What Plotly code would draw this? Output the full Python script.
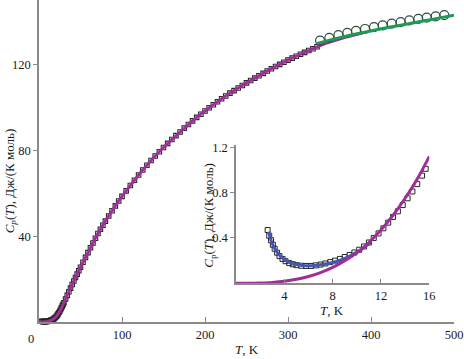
import plotly.graph_objects as go

# ---------------- main panel data ----------------
sq_T = [3, 4, 5, 6, 7, 8, 9, 10, 11, 12, 13, 14, 15, 16, 17, 18, 19, 20, 21, 22, 23, 24, 25, 26, 27, 28, 29, 30,
        32, 34, 36, 38, 40, 42, 44, 46, 48, 50, 53, 56, 59, 62, 65, 68, 71, 74, 77, 80, 84, 88, 92, 96, 100,
        105, 110, 115, 120, 125, 130, 135, 140, 145, 150, 155, 160, 165, 170, 175, 180, 185, 190, 195, 200,
        205, 210, 215, 220, 225, 230, 235, 240, 245, 250, 255, 260, 265, 270, 275, 280, 285, 290, 295, 300,
        305, 310, 315, 320, 325, 330, 335]
sq_Cp = [0.35, 0.21, 0.16, 0.155, 0.165, 0.19, 0.23, 0.28, 0.36, 0.48, 0.6, 0.75, 0.9, 1.05, 1.3, 1.55, 1.85, 2.2,
         2.7, 3.2, 3.8, 4.4, 5.0, 5.8, 6.6, 7.4, 8.2, 9.0,
         10.7, 12.4, 14.1, 15.8, 17.5, 19.1, 20.7, 22.3, 23.9, 25.5, 27.8, 30.1, 32.3, 34.6, 36.8, 39.0, 41.2,
         43.2, 45.1, 47.0, 49.4, 51.8, 54.1, 56.4, 58.5,
         61.1, 63.6, 66.0, 68.5, 70.8, 73.0, 75.2, 77.3, 79.3, 81.3, 83.2, 85.0, 86.8, 88.5, 90.3, 92.0, 93.7,
         95.3, 96.8, 98.3, 99.8, 101.2, 102.6, 104.0, 105.3, 106.6, 107.8, 109.0, 110.2, 111.4, 112.5, 113.6,
         114.7, 115.8, 116.9, 118.0, 119.0, 120.0, 121.0, 122.0, 122.9, 123.8, 124.7, 125.6, 126.5, 127.3, 128.2]

circ_T = [338.6, 349.8, 360.7, 371.5, 381.9, 392.8, 403.6, 414.1, 424.9, 435.7, 446.2, 457.0, 467.1, 477.9, 488.3]
circ_Cp = [131.1, 132.4, 133.6, 134.7, 135.6, 136.5, 137.4, 138.2, 139.0, 139.7, 140.5, 141.2, 141.8, 142.4, 143.0]

fit_T = [0, 5, 10, 15, 20, 25, 30, 35, 40, 45, 50, 55, 60, 65, 70, 75, 80, 85, 90, 95, 100, 110, 120, 130, 140,
         150, 160, 170, 180, 190, 200, 210, 220, 230, 240, 250, 260, 270, 280, 290, 300, 310, 320, 330, 340,
         350, 360, 370, 380, 390]
fit_Cp = [0.0, 0.04, 0.28, 0.9, 2.2, 5.0, 9.0, 13.3, 17.5, 21.5, 25.5, 29.3, 33.0, 36.8, 40.5, 43.8, 47.0, 50.0,
          53.0, 55.8, 58.5, 63.5, 68.5, 73.0, 77.3, 81.3, 85.0, 88.5, 92.0, 95.3, 98.3, 101.2, 104.0, 106.6,
          109.0, 111.4, 113.6, 115.8, 118.0, 120.0, 122.0, 123.8, 125.6, 127.3, 129.0,
          130.4, 131.6, 132.7, 133.7, 134.6]

hi_T = [335, 350, 375, 400, 425, 450, 475, 500]
hi_Cp = [129.8, 131.3, 133.6, 135.6, 137.5, 139.3, 141.1, 142.9]

# ---------------- inset data ----------------
in_sq_T = [2.62, 2.75, 2.9, 3.05, 3.2, 3.4, 3.6, 3.85, 4.1, 4.4, 4.7, 5.0, 5.4, 5.8, 6.2, 6.6, 7.0, 7.4, 7.8,
           8.2, 8.6, 9.0, 9.4, 9.8, 10.2, 10.6, 11.0, 11.4, 11.8, 12.2, 12.6, 13.0, 13.4, 13.8, 14.2, 14.6,
           15.0, 15.4, 15.7]
in_sq_Cp = [0.47, 0.42, 0.38, 0.34, 0.305, 0.27, 0.24, 0.215, 0.195, 0.178, 0.168, 0.16, 0.155, 0.153, 0.153,
            0.158, 0.165, 0.175, 0.187, 0.2, 0.215, 0.232, 0.25, 0.272, 0.296, 0.325, 0.36, 0.4, 0.44, 0.485,
            0.535, 0.585, 0.635, 0.69, 0.75, 0.81, 0.875, 0.95, 1.01]

in_blue_T = [2.7, 3.0, 3.5, 4.0, 4.5, 5.0, 5.5, 6.0, 6.5, 7.0, 7.5, 8.0, 8.5, 9.0, 9.5, 10.0, 10.5, 11.0, 11.2]
in_blue_Cp = [0.455, 0.35, 0.26, 0.21, 0.18, 0.165, 0.157, 0.155, 0.157, 0.163, 0.172, 0.185, 0.2, 0.22, 0.245,
              0.275, 0.31, 0.35, 0.37]

in_fit_T = [0, 1, 2, 3, 4, 5, 6, 7, 8, 9, 10, 11, 12, 13, 14, 15, 16]
in_fit_Cp = [0.0, 0.0, 0.003, 0.008, 0.018, 0.035, 0.06, 0.094, 0.14, 0.2, 0.27, 0.36, 0.47, 0.6, 0.75, 0.92, 1.12]

main_xticks = [100, 200, 300, 400, 500]
main_yticks = [40, 80, 120]
in_xticks = [4, 8, 12, 16]
in_yticks = [0.4, 0.8, 1.2]
in_ytick_text = ["0.4", "0.8", "1.2"]

PURPLE = "#9E2F98"
GREEN = "#1E9A55"
BLUE = "#4356B2"
SQ = "#262626"
AX = "#8a8a8a"
FONT = "Liberation Serif"

fig = go.Figure()
fig.add_trace(go.Scatter(x=sq_T, y=sq_Cp, mode="markers", cliponaxis=False,
                         marker=dict(symbol="square-open", size=4.5, color=SQ, line=dict(width=1.1, color=SQ))))
fig.add_trace(go.Scatter(x=fit_T, y=fit_Cp, mode="lines", cliponaxis=False,
                         line=dict(color=PURPLE, width=3, shape="spline")))
fig.add_trace(go.Scatter(x=circ_T, y=circ_Cp, mode="markers",
                         marker=dict(symbol="circle-open", size=9, color="#2c4f39", line=dict(width=1.2))))
fig.add_trace(go.Scatter(x=hi_T, y=hi_Cp, mode="lines", line=dict(color=GREEN, width=3, shape="spline")))

fig.add_trace(go.Scatter(x=in_sq_T, y=in_sq_Cp, mode="markers", xaxis="x2", yaxis="y2",
                         marker=dict(symbol="square-open", size=5, color=SQ, line=dict(width=1, color=SQ))))
fig.add_trace(go.Scatter(x=in_blue_T, y=in_blue_Cp, mode="lines", xaxis="x2", yaxis="y2",
                         line=dict(color=BLUE, width=3, shape="spline")))
fig.add_trace(go.Scatter(x=in_fit_T, y=in_fit_Cp, mode="lines", xaxis="x2", yaxis="y2", cliponaxis=False,
                         line=dict(color=PURPLE, width=3, shape="spline")))

axis_common = dict(showgrid=False, zeroline=False, showline=True, linecolor=AX, linewidth=1.5,
                   automargin=False, tickcolor=AX, tickwidth=1,
                   tickfont=dict(family=FONT, size=12.5, color="#1a1a1a"))

fig.update_layout(
    width=464, height=359, showlegend=False,
    margin=dict(l=39, r=10, t=0, b=37, pad=0, autoexpand=False),
    plot_bgcolor="white", paper_bgcolor="white",
    font=dict(family=FONT, color="#1a1a1a"),
    xaxis=dict(range=[0, 500], tickvals=main_xticks, ticks="inside", ticklen=5, **axis_common),
    yaxis=dict(range=[0, 150], tickvals=main_yticks, ticks="outside", ticklen=4, **axis_common),
    xaxis2=dict(domain=[0.4747, 0.9405], anchor="y2", range=[0, 16], tickvals=in_xticks,
                ticks="inside", ticklen=5, **axis_common),
    yaxis2=dict(domain=[0.1202, 0.5497], anchor="x2", range=[0, 1.22], tickvals=in_yticks,
                ticktext=in_ytick_text, ticks="outside", ticklen=4, **axis_common),
)

ann_font = dict(family=FONT, size=13, color="#1a1a1a")
fig.add_annotation(text="0", xref="paper", yref="paper", x=-0.019, y=-0.025, showarrow=False,
                   font=dict(family=FONT, size=12.5, color="#1a1a1a"), xanchor="center", yanchor="top")
fig.add_annotation(text="0", xref="x2", yref="y2", x=-0.75, y=-0.03, showarrow=False,
                   font=dict(family=FONT, size=12.5, color="#1a1a1a"), xanchor="center", yanchor="top")
fig.add_annotation(text="<i>T</i>, K", xref="paper", yref="paper", x=0.5, y=-0.085, showarrow=False,
                   font=ann_font, xanchor="center", yanchor="middle")
fig.add_annotation(text="<i>C</i><sub><i>p</i></sub>(<i>T</i>), Дж/(К моль)", xref="paper", yref="paper",
                   x=-0.0699, y=0.44, textangle=-90, showarrow=False, font=ann_font,
                   xanchor="center", yanchor="middle")
fig.add_annotation(text="<i>T</i>, K", xref="paper", yref="paper", x=0.706, y=0.036, showarrow=False,
                   font=ann_font, xanchor="center", yanchor="middle")
fig.add_annotation(text="<i>C</i><sub>p</sub>(<i>T</i>), Дж/(К моль)", xref="paper", yref="paper",
                   x=0.412, y=0.333, textangle=-90, showarrow=False, font=ann_font,
                   xanchor="center", yanchor="middle")

fig.write_html("out.html", config={"displayModeBar": False},
               post_script="document.body.style.margin='0';document.body.style.padding='0';")
